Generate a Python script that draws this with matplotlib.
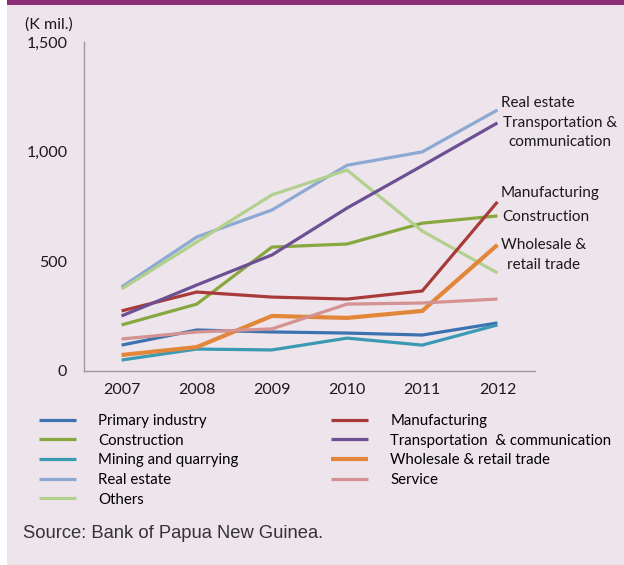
import matplotlib
matplotlib.use('Agg')
import matplotlib.pyplot as plt
from matplotlib.patches import Rectangle

years = ['2007', '2008', '2009', '2010', '2011', '2012']

primary = [118, 187, 178, 173, 164, 219]
manufacturing = [274, 360, 337, 328, 365, 771]
construction = [210, 305, 565, 579, 674, 707]
transport = [251, 392, 529, 743, 936, 1131]
mining = [50, 100, 96, 150, 118, 210]
wholesale = [73, 109, 251, 242, 274, 575]
real_estate = [383, 611, 734, 938, 999, 1190]
service = [146, 178, 192, 305, 310, 328]
others = [374, 588, 803, 916, 638, 447]

yticks = [0, 500, 1000, 1500]
ytick_labels = ['0', '500', '1,000', '1,500']

bg = '#EEE4EC'
font = 'Lato'

fig = plt.figure(figsize=(6.24, 5.65), dpi=100, facecolor='white')
W, H = 624, 565

# panel background and top bar
fig.patches.append(Rectangle((7 / W, 0), 1 - 7 / W, 1, transform=fig.transFigure,
                             facecolor=bg, edgecolor='none', zorder=-10))
fig.patches.append(Rectangle((7 / W, 1 - 5 / H), 1 - 7 / W, 5 / H, transform=fig.transFigure,
                             facecolor='#8B2E76', edgecolor='none', zorder=-9))

ax = fig.add_axes([84 / W, 1 - 371 / H, 451 / W, 329 / H])
ax.set_facecolor(bg)

x = list(range(len(years)))
series = [
    ('Primary industry', primary, '#3D72B0', 2.3),
    ('Construction', construction, '#86A83E', 2.3),
    ('Mining and quarrying', mining, '#3A9AB4', 2.3),
    ('Real estate', real_estate, '#8CA9D3', 2.3),
    ('Others', others, '#B2D08E', 2.3),
    ('Manufacturing', manufacturing, '#A83B3A', 2.3),
    ('Transportation  & communication', transport, '#6D4F94', 2.3),
    ('Wholesale & retail trade', wholesale, '#E2873A', 3.0),
    ('Service', service, '#D49291', 2.3),
]

lines = {}
for name, vals, col, lw in series:
    ln, = ax.plot(x, vals, color=col, lw=lw, solid_capstyle='butt', solid_joinstyle='miter')
    lines[name] = ln

ax.set_xlim(-0.5, 5.5)
ax.set_ylim(0, 1500)
ax.set_xticks(x)
ax.set_xticklabels(years, fontsize=11.5, family=font)
ax.set_yticks(yticks)
ax.set_yticklabels(ytick_labels, fontsize=11.5, family=font)
ax.tick_params(axis='both', length=0, colors='#1a1a1a')
ax.tick_params(axis='x', pad=9)
ax.tick_params(axis='y', pad=12)
for s in ['top', 'right']:
    ax.spines[s].set_visible(False)
for s in ['left', 'bottom']:
    ax.spines[s].set_color('#9a9a9a')
    ax.spines[s].set_linewidth(1.0)

fig.text(25 / W, 1 - 25 / H, '(K mil.)', fontsize=11.5, family=font, va='center', ha='left',
         color='#1a1a1a')

# end labels
lab_kw = dict(fontsize=11, family=font, color='#1a1a1a', va='center', clip_on=False)
ax.text(5.05, 1222, 'Real estate', **lab_kw)
ax.text(5.07, 1131, 'Transportation &', **lab_kw)
ax.text(5.15, 1044, 'communication', **lab_kw)
ax.text(5.04, 812, 'Manufacturing', **lab_kw)
ax.text(5.07, 702, 'Construction', **lab_kw)
ax.text(5.05, 575, 'Wholesale &', **lab_kw)
ax.text(5.13, 483, 'retail trade', **lab_kw)

# legend, two columns
col1 = ['Primary industry', 'Construction', 'Mining and quarrying', 'Real estate', 'Others']
col2 = ['Manufacturing', 'Transportation  & communication', 'Wholesale & retail trade', 'Service']
leg_kw = dict(loc='upper left', frameon=False, borderaxespad=0, borderpad=0,
              handlelength=2.45, handletextpad=1.5, labelspacing=0.375,
              prop={'family': font, 'size': 10.8}, bbox_transform=fig.transFigure)
fig.legend([lines[n] for n in col1], col1, bbox_to_anchor=(39 / W, 1 - 414 / H), **leg_kw)
fig.legend([lines[n] for n in col2], col2, bbox_to_anchor=(331 / W, 1 - 414 / H), **leg_kw)

fig.text(23 / W, 1 - 533 / H, 'Source: Bank of Papua New Guinea.', fontsize=13.2,
         family='Liberation Sans', va='center', ha='left', color='#333333')

fig.savefig('out.png', dpi=100, facecolor=fig.get_facecolor())
